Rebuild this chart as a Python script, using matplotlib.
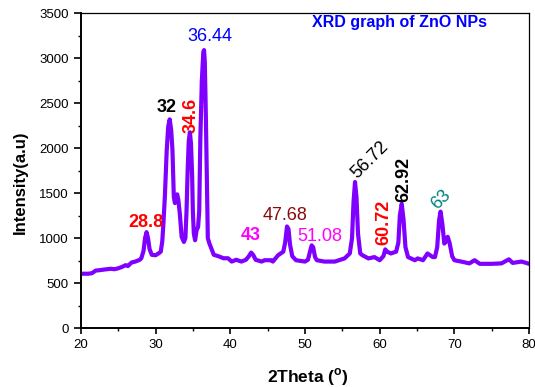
import matplotlib
matplotlib.use('Agg')
import matplotlib.pyplot as plt
from matplotlib.ticker import MultipleLocator

plt.rcParams['font.family'] = ['Liberation Sans', 'DejaVu Sans']

# Patrón XRD (2theta, intensidad)
two_theta = [20, 21, 21.5, 22, 22.5, 23, 24, 24.5, 25, 25.5, 26, 26.3, 26.8, 27.3, 27.9,
             28.1, 28.4, 28.6, 28.8, 29.0, 29.2, 29.5, 30.0, 30.4, 30.7, 30.9, 31.05,
             31.25, 31.5, 31.7, 31.9, 32.1, 32.27, 32.45, 32.6, 32.75, 32.9, 33.05, 33.25,
             33.5, 33.8, 34.0, 34.15, 34.3, 34.45, 34.6, 34.75, 34.9, 35.0, 35.13, 35.3,
             35.5, 35.7, 35.85, 36.0, 36.2, 36.4, 36.5, 36.6, 36.75, 36.9, 37.0, 37.2,
             37.5, 37.8, 38.4, 39.1, 39.7, 40.2, 40.8, 41.5, 42.1, 42.5, 42.8, 43.1,
             43.4, 44.2, 44.6, 45.5, 45.7, 46.4, 47.1, 47.35, 47.6, 47.8, 48.0, 48.3,
             48.8, 50.0, 50.4, 50.7, 50.9, 51.1, 51.35, 51.6, 52.6, 54.0, 55.3, 56.0,
             56.3, 56.5, 56.7, 56.9, 57.1, 57.4, 57.7, 58.5, 59.3, 60.0, 60.5, 60.75,
             61.0, 61.5, 62.2, 62.5, 62.7, 62.95, 63.2, 63.45, 63.8, 64.7, 65.1, 65.8,
             66.4, 67.1, 67.4, 67.7, 67.95, 68.15, 68.4, 68.65, 68.85, 69.1, 69.35, 69.7,
             70.0, 70.9, 72.0, 72.7, 73.4, 75.0, 76.3, 77.3, 77.8, 79.0, 80.0]
intensity = [605, 605, 611, 640, 644, 650, 660, 655, 665, 680, 700, 690, 730, 740, 760,
             777, 860, 1000, 1067, 1000, 880, 815, 810, 830, 850, 960, 1150,
             1458, 1976, 2240, 2320, 2200, 1976, 1458, 1390, 1470, 1487, 1430, 1275,
             1014, 958, 1000, 1300, 1750, 2080, 2176, 2050, 1700, 1300, 1050, 977,
             1088, 1125, 1300, 2100, 2750, 3070, 3090, 2950, 2300, 1500, 1000, 944,
             880, 815, 800, 777, 777, 740, 760, 740, 760, 800, 840, 810,
             760, 740, 755, 755, 740, 810, 850, 950, 1130, 1100, 930, 800,
             755, 740, 760, 860, 920, 900, 790, 755, 740, 740, 775, 830,
             1000, 1400, 1624, 1450, 1050, 830, 810, 775, 790, 755, 800, 875,
             850, 830, 850, 950, 1250, 1380, 1200, 900, 790, 755, 775, 755,
             830, 790, 790, 900, 1200, 1295, 1150, 940, 960, 1015, 950, 800,
             755, 740, 720, 755, 715, 715, 720, 765, 725, 740, 715]

# Etiquetas de picos: (texto, x, y, color, negrita, rotación)
etiquetas = [
    ('28.8', 28.7, 1177, 'red', 'bold', 0),
    ('32', 31.5, 2453, 'black', 'bold', 0),
    ('34.6', 34.7, 2364, 'red', 'bold', 90),
    ('36.44', 37.3, 3243, 'blue', 'normal', 0),
    ('43', 42.8, 1033, 'magenta', 'bold', 0),
    ('47.68', 47.3, 1255, '#8b0a0a', 'normal', 0),
    ('51.08', 52.0, 1022, 'magenta', 'normal', 0),
    ('56.72', 58.7, 1865, 'black', 'normal', 45),
    ('60.72', 60.6, 1177, 'red', 'bold', 90),
    ('62.92', 63.2, 1655, 'black', 'bold', 90),
    ('63', 68.2, 1432, '#008080', 'normal', 45),
]

fig = plt.figure(figsize=(5.35, 3.87), dpi=100)
ax = fig.add_axes([0.151, 0.152, 0.838, 0.814])

ax.plot(two_theta, intensity, color='#8000ff', linewidth=3.0,
        solid_joinstyle='round', solid_capstyle='round')

for texto, x, y, color, peso, rot in etiquetas:
    ax.text(x, y, texto, color=color, fontweight=peso, rotation=rot,
            fontsize=13, ha='center', va='center')

ax.text(0.712, 0.971, 'XRD graph of ZnO NPs', transform=ax.transAxes,
        color='#0000ff', fontweight='bold', fontsize=11.5, ha='center', va='center')

ax.set_xlim(20, 80)
ax.set_ylim(0, 3500)
ax.xaxis.set_major_locator(MultipleLocator(10))
ax.xaxis.set_minor_locator(MultipleLocator(5))
ax.yaxis.set_major_locator(MultipleLocator(500))
ax.yaxis.set_minor_locator(MultipleLocator(250))
ax.tick_params(axis='both', which='major', labelsize=9.5, direction='out', width=1.2)
ax.tick_params(axis='y', which='major', length=5)
ax.tick_params(axis='x', which='major', length=4)
ax.tick_params(axis='both', which='minor', length=2.5, width=1.0)

for lado in ['left', 'bottom']:
    ax.spines[lado].set_linewidth(1.4)
for lado in ['top', 'right']:
    ax.spines[lado].set_linewidth(0.9)

ax.set_xlabel('2Theta ($^\\mathregular{o}$)', fontweight='bold', fontsize=12.5)
ax.set_ylabel('Intensity(a.u)', fontweight='bold', fontsize=12)
ax.xaxis.set_label_coords(0.506, -0.122)
ax.yaxis.set_label_coords(-0.118, 0.462)

fig.savefig('out.png', dpi=100)
